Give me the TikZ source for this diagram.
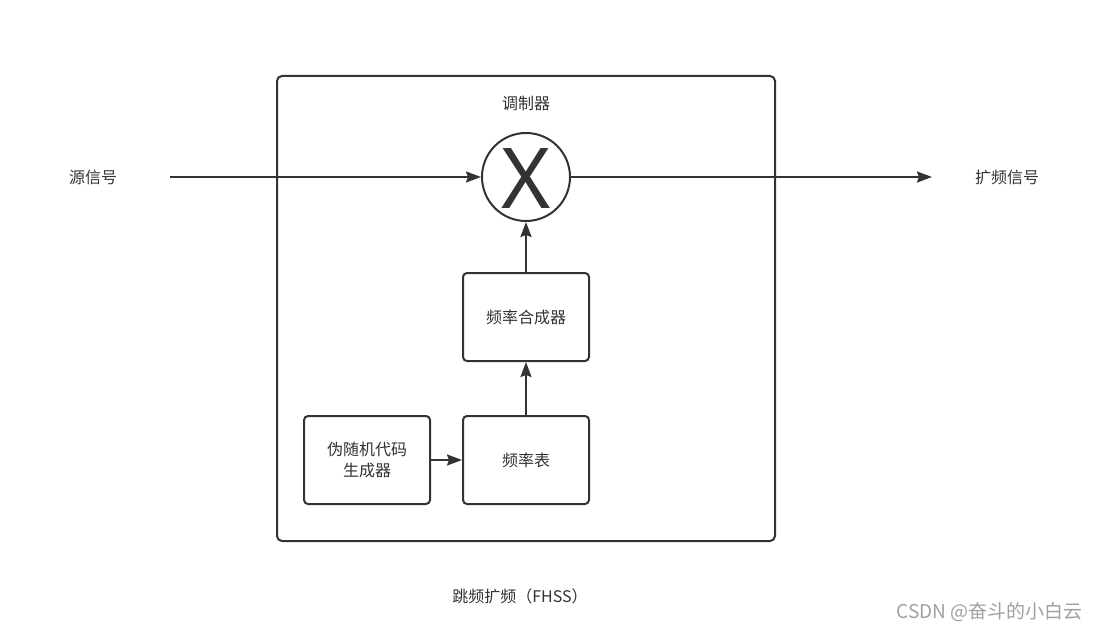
\documentclass[tikz,border=0pt]{standalone}
\usepackage{fontspec}
\setmainfont{Noto Sans}
\newfontfamily\cjk{Noto Sans CJK SC}
\usetikzlibrary{arrows.meta}
\definecolor{ln}{HTML}{333333}
\definecolor{tx}{HTML}{333333}
\definecolor{wm}{HTML}{A0A0A0}
\tikzset{
  lbl/.style={text=tx, font=\cjk\fontsize{16}{21}\selectfont, inner sep=0pt, align=center},
  blk/.style={draw=ln, line width=2pt, rounded corners=4pt, minimum width=126pt, minimum height=88pt, text=tx, font=\cjk\fontsize{16}{21}\selectfont, align=center},
  conn/.style={draw=ln, line width=2pt, -{Stealth[length=15pt,width=11pt,inset=2pt]}},
}
\begin{document}
\begin{tikzpicture}[x=1pt,y=-1pt]
\useasboundingbox[fill=white] (0,0) rectangle (1097,631);
% outer frame
\draw[ln, line width=2pt, rounded corners=5pt] (277,76) rectangle (775,541);
\node[lbl] (mod) at (526,103) {调制器};
% mixer
\node[draw=ln, line width=2pt, circle, minimum size=88pt, inner sep=0pt] (mix) at (526,177) {};
\node[text=tx, font=\fontsize{84}{84}\selectfont, inner sep=0pt] (xl) at (526,179) {X};
% blocks
\node[blk] (syn) at (526,317) {频率合成器};
\node[blk] (tab) at (526,460) {频率表};
\node[blk] (pn) at (367,460) {伪随机代码\\生成器};
% side labels
\node[lbl] (src) at (93,177) {源信号};
\node[lbl] (out) at (1007,177) {扩频信号};
\coordinate (srcend) at (170,177);
\coordinate (outend) at (932,177);
\node[lbl] (cap) at (520,596) {跳频扩频（FHSS）};
\node[text=wm, font=\cjk\fontsize{19}{22}\selectfont, inner sep=0pt, anchor=east] (wmk) at (1083,612) {CSDN @奋斗的小白云};
% connectors
\draw[conn] (srcend) -- (mix.west);
\draw[conn] (mix.east) -- (outend);
\draw[conn] (syn.north) -- (mix.south);
\draw[conn] (tab.north) -- (syn.south);
\draw[conn] (pn.east) -- (tab.west);
\end{tikzpicture}
\end{document}
